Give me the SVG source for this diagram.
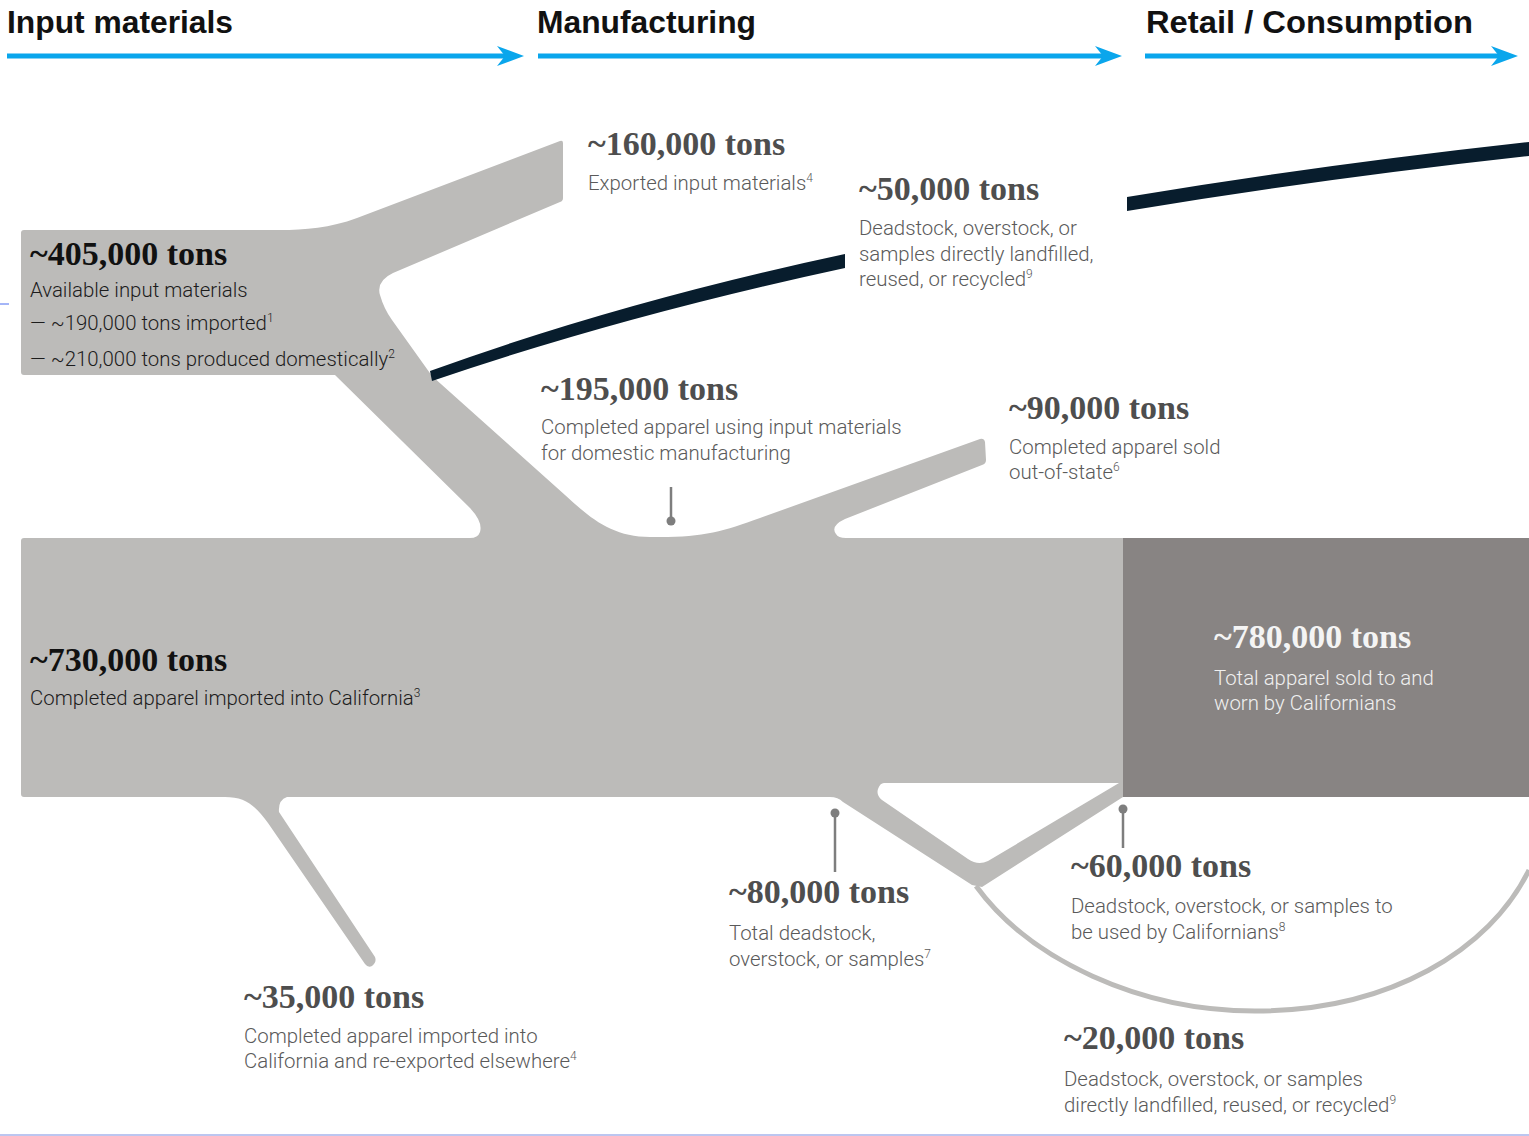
<svg xmlns="http://www.w3.org/2000/svg" width="1529" height="1136" viewBox="0 0 1529 1136">
<defs>
<style>
.hdr{font-family:"Liberation Sans",Arial,sans-serif;font-weight:700;font-size:31px;fill:#111}
.num{font-family:"Liberation Serif","Times New Roman",serif;font-weight:700;font-size:34px;fill:#4e4e4e}
.numk{fill:#111}
.numw{fill:#f4f4f4}
.desc{font-family:Roboto,"Liberation Sans",sans-serif;font-weight:300;font-size:20.4px;fill:#5a5a5a}
.desck{fill:#1c1c1c}
.descw{fill:#f0f0f0}
.sup{font-size:12px}
.flow{fill:#bcbbb9}
.dark{fill:#081d2d}
.pin{stroke:#7e7e7e;stroke-width:2.5;fill:none}
.pindot{fill:#7e7e7e}
.arrow{stroke:#0aa6ec;stroke-width:5;fill:none}
.head{fill:#0aa6ec}
</style>
</defs>
<rect width="1529" height="1136" fill="#ffffff"/>

<g id="stage-headers">
<text class="hdr" x="7" y="33" textLength="226" lengthAdjust="spacingAndGlyphs">Input materials</text>
<path class="arrow" d="M7 56 L508 56"/>
<path class="head" d="M524 56 L497 46 L505 56 L497 66 Z"/>
<text class="hdr" x="537" y="33" textLength="219" lengthAdjust="spacingAndGlyphs">Manufacturing</text>
<path class="arrow" d="M538 56 L1106 56"/>
<path class="head" d="M1122 56 L1095 46 L1103 56 L1095 66 Z"/>
<text class="hdr" x="1146" y="33" textLength="327" lengthAdjust="spacingAndGlyphs">Retail / Consumption</text>
<path class="arrow" d="M1145 56 L1502 56"/>
<path class="head" d="M1518 56 L1491 46 L1499 56 L1491 66 Z"/>
</g>

<g id="connectors">
<path class="flow" d="M21 233 Q21 230 24 230 L280 230 C305 230 330 228 357 218 L560 141 Q563 140 563 143 L563 198 Q563 201 560 202 L393 273 Q376 281 380 295 Q384 309 392 320 L432 376 L565 495 C590 518 612 537 650 537 C700 538 722 532 760 518 L980 439 Q984 438 985 442 L986 460 Q986 464 982 465 L845 519 Q830 526 836 534 Q838 538 846 538 L1123 538 L1123 797 L982 887 L972 885 L843 802 Q838 797 830 797 L287 797 Q278 800 279 812 L375 957 Q377 962 372 966 Q368 968 365 964 L268 823 C255 805 245 797 225 797 L24 797 Q21 797 21 794 L21 541 Q21 538 24 538 L470 538 Q478 538 480 532 Q483 522 470 508 L335 375 L24 375 Q21 375 21 372 Z"/>
<path fill="#ffffff" d="M884 783 L1119 783 L988 861 Q978 866 968 859 L882 800 Q876 795 878 789 Q880 783 884 783 Z"/>
<path d="M976 886 C1030 960 1140 1011 1255 1011 C1390 1011 1490 950 1529 870" fill="none" stroke="#bcbbb9" stroke-width="5"/>
<path class="dark" d="M430 371 Q620 302 845 254 L845 268 Q622 316 432 381 Z"/>
<path class="dark" d="M1127 197 Q1320 165 1529 142 L1529 156 Q1320 179 1127 211 Z"/>
<line class="pin" x1="671" y1="487" x2="671" y2="519"/>
<circle class="pindot" cx="671" cy="521" r="4.5"/>
<line class="pin" x1="835" y1="815" x2="835" y2="872"/>
<circle class="pindot" cx="835" cy="813" r="4.5"/>
<line class="pin" x1="1123" y1="811" x2="1123" y2="848"/>
<circle class="pindot" cx="1123" cy="809" r="4.5"/>
<line x1="0" y1="304" x2="9" y2="304" stroke="#4a6cf0" stroke-width="1"/>
<line x1="0" y1="1135" x2="1529" y2="1135" stroke="#bcc6f0" stroke-width="2"/>
</g>

<g id="node-retail">
<rect x="1123" y="538" width="406" height="259" fill="#888483"/>
<text class="num numw" x="1214" y="648">~780,000 tons</text>
<text class="desc descw" x="1214" y="685">Total apparel sold to and</text>
<text class="desc descw" x="1214" y="710">worn by Californians</text>
</g>

<g id="node-input">
<text class="num numk" x="30" y="265">~405,000 tons</text>
<text class="desc desck" x="30" y="297">Available input materials</text>
<text class="desc desck" x="30" y="330">— ~190,000 tons imported<tspan class="sup" dy="-8">1</tspan></text>
<text class="desc desck" x="30" y="366">— ~210,000 tons produced domestically<tspan class="sup" dy="-8">2</tspan></text>
</g>

<g id="node-exported">
<text class="num" x="588" y="155">~160,000 tons</text>
<text class="desc" x="588" y="190">Exported input materials<tspan class="sup" dy="-8">4</tspan></text>
</g>

<g id="node-deadstock-mfg">
<text class="num" x="859" y="200">~50,000 tons</text>
<text class="desc" x="859" y="235">Deadstock, overstock, or</text>
<text class="desc" x="859" y="261">samples directly landfilled,</text>
<text class="desc" x="859" y="286">reused, or recycled<tspan class="sup" dy="-8">9</tspan></text>
</g>

<g id="node-domestic">
<text class="num" x="541" y="400">~195,000 tons</text>
<text class="desc" x="541" y="434">Completed apparel using input materials</text>
<text class="desc" x="541" y="460">for domestic manufacturing</text>
</g>

<g id="node-outofstate">
<text class="num" x="1009" y="419">~90,000 tons</text>
<text class="desc" x="1009" y="454">Completed apparel sold</text>
<text class="desc" x="1009" y="479">out-of-state<tspan class="sup" dy="-8">6</tspan></text>
</g>

<g id="node-imported">
<text class="num numk" x="30" y="671">~730,000 tons</text>
<text class="desc desck" x="30" y="705">Completed apparel imported into California<tspan class="sup" dy="-8">3</tspan></text>
</g>

<g id="node-deadstock-total">
<text class="num" x="729" y="903">~80,000 tons</text>
<text class="desc" x="729" y="940">Total deadstock,</text>
<text class="desc" x="729" y="966">overstock, or samples<tspan class="sup" dy="-8">7</tspan></text>
</g>

<g id="node-deadstock-used">
<text class="num" x="1071" y="877">~60,000 tons</text>
<text class="desc" x="1071" y="913">Deadstock, overstock, or samples to</text>
<text class="desc" x="1071" y="939">be used by Californians<tspan class="sup" dy="-8">8</tspan></text>
</g>

<g id="node-reexported">
<text class="num" x="244" y="1008">~35,000 tons</text>
<text class="desc" x="244" y="1043">Completed apparel imported into</text>
<text class="desc" x="244" y="1068">California and re-exported elsewhere<tspan class="sup" dy="-8">4</tspan></text>
</g>

<g id="node-deadstock-landfill">
<text class="num" x="1064" y="1049">~20,000 tons</text>
<text class="desc" x="1064" y="1086">Deadstock, overstock, or samples</text>
<text class="desc" x="1064" y="1112">directly landfilled, reused, or recycled<tspan class="sup" dy="-8">9</tspan></text>
</g>
</svg>
